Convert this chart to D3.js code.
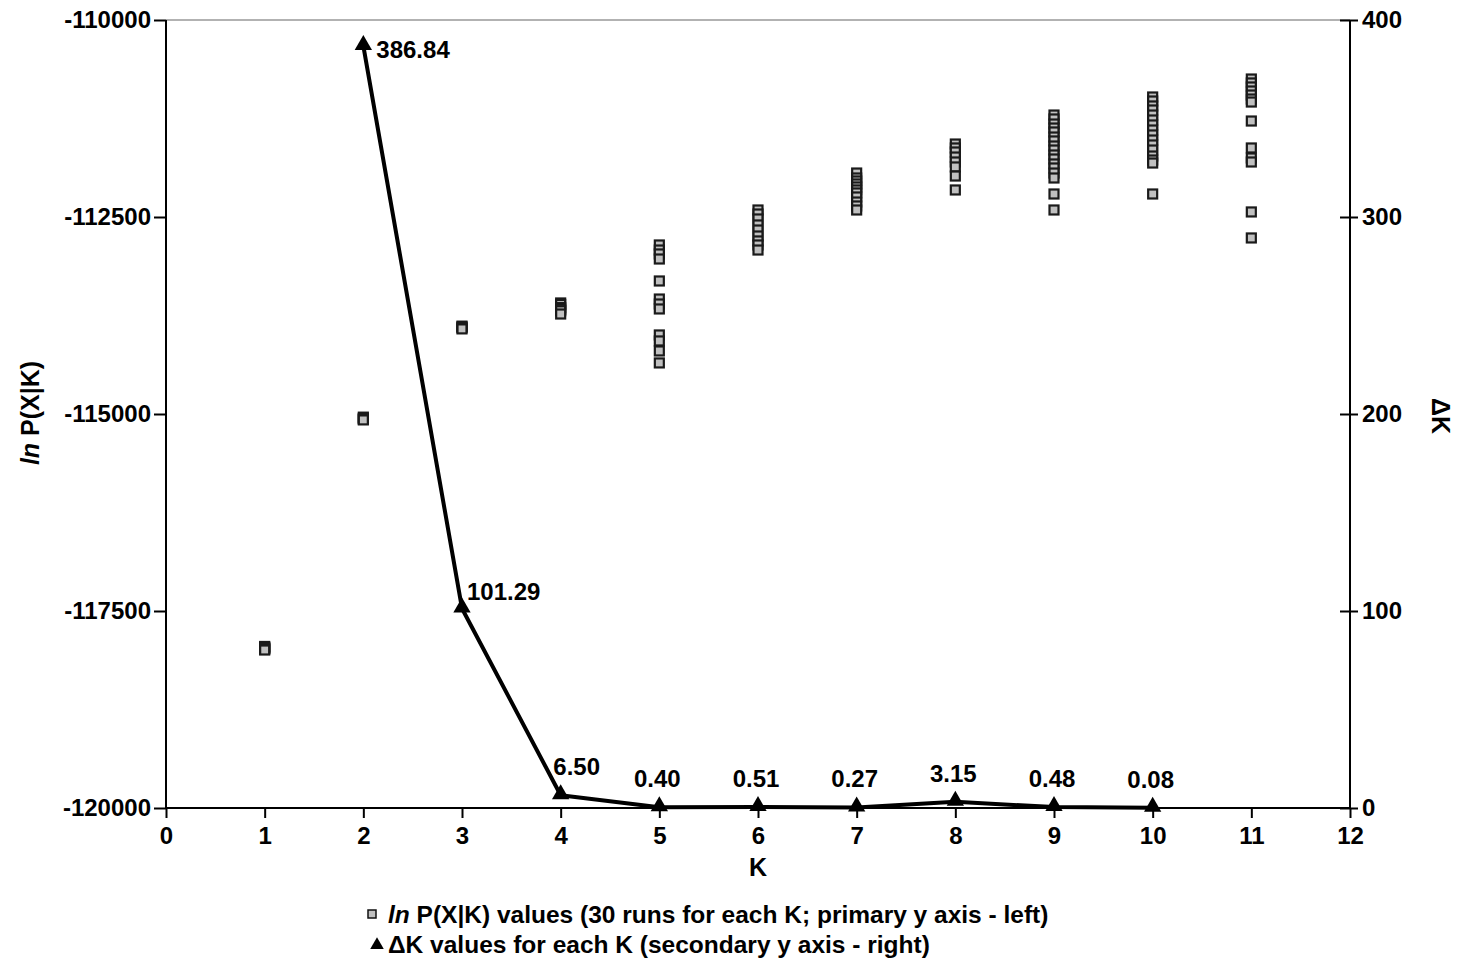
<!DOCTYPE html>
<html><head><meta charset="utf-8">
<script src="https://cdn.jsdelivr.net/npm/d3@7"></script>
<style>
body{margin:0;background:#fff;}
text{font-family:"Liberation Sans",Arial,sans-serif;font-weight:bold;fill:#000;}
</style></head>
<body><svg id="c" width="1458" height="962"></svg>
<script>
// ---- data ----
const kValues = [1,2,3,4,5,6,7,8,9,10,11];
const lnP_K1 = [-117950,-117960,-117970,-117975,-117985,-117995];
const lnP_K2 = [-115040,-115055,-115065,-115075];
const lnP_K3 = [-113885,-113895,-113905,-113920];
const lnP_K4 = [-113591,-113610,-113650,-113670,-113690,-113731];
const lnP_K5 = [-112855,-112919,-112969,-113033,-113312,-113541,-113604,-113667,-113997,-114073,-114200,-114352];
const lnP_K6 = [-112411,-112462,-112525,-112601,-112665,-112741,-112804,-112855,-112919];
const lnP_K7 = [-111942,-112005,-112043,-112081,-112119,-112157,-112195,-112246,-112310,-112360,-112411];
const lnP_K8 = [-111574,-111624,-111675,-111739,-111802,-111865,-111980,-112157];
const lnP_K9 = [-111206,-111256,-111320,-111371,-111421,-111485,-111535,-111599,-111650,-111713,-111764,-111827,-111878,-111942,-112005,-112208,-112411];
const lnP_K10 = [-110977,-111028,-111091,-111142,-111206,-111269,-111332,-111396,-111459,-111523,-111586,-111650,-111726,-111777,-111815,-112208];
const lnP_K11 = [-110749,-110799,-110850,-110901,-110952,-111003,-111041,-111282,-111624,-111751,-111802,-112436,-112766];
const lnPByK = [lnP_K1,lnP_K2,lnP_K3,lnP_K4,lnP_K5,lnP_K6,lnP_K7,lnP_K8,lnP_K9,lnP_K10,lnP_K11];

const deltaK_K = [2,3,4,5,6,7,8,9,10];
const deltaK = [386.84,101.29,6.50,0.40,0.51,0.27,3.15,0.48,0.08];

const xTicks = [0,1,2,3,4,5,6,7,8,9,10,11,12];
const leftTicks = [-120000,-117500,-115000,-112500,-110000];
const rightTicks = [0,100,200,300,400];

// ---- layout ----
const svg = d3.select("#c");
const L = 166, R = 1350, T = 20, B = 808;
const x = d3.scaleLinear().domain([0,12]).range([L,R]);
const yL = d3.scaleLinear().domain([-120000,-110000]).range([B,T]);
const yR = d3.scaleLinear().domain([0,400]).range([B,T]);
const fs = 24;
const intFmt = d => String(Math.round(d)); // plain hyphen minus

// top border
svg.append("line").attr("x1",L).attr("x2",R).attr("y1",T).attr("y2",T)
  .attr("stroke","#999").attr("stroke-width",1.5);

// axes
const gx = svg.append("g").attr("transform",`translate(0,${B})`)
  .call(d3.axisBottom(x).tickValues(xTicks).tickSize(10).tickPadding(9).tickFormat(intFmt));
const gl = svg.append("g").attr("transform",`translate(${L},0)`)
  .call(d3.axisLeft(yL).tickValues(leftTicks).tickSize(12).tickPadding(3).tickFormat(intFmt));
const gr = svg.append("g").attr("transform",`translate(${R},0)`)
  .call(d3.axisRight(yR).tickValues(rightTicks).tickSize(8).tickPadding(4).tickFormat(intFmt));
gr.selectAll(".tick line").attr("x1",-10);
[gx,gl,gr].forEach(g=>{
  g.select(".domain").attr("stroke","#000").attr("stroke-width",2);
  g.selectAll(".tick line").attr("stroke","#000").attr("stroke-width",2);
  g.selectAll("text").attr("font-size",fs).attr("font-family","Liberation Sans, Arial, sans-serif").attr("font-weight","bold").attr("fill","#000");
});
gx.select(".domain").attr("d",`M${L},0H${R}`);
gl.select(".domain").attr("d",`M0,${T}V${B}`);
gr.select(".domain").attr("d",`M0,${T}V${B}`);

// scatter squares
const pts = [];
lnPByK.forEach((arr,i)=>arr.forEach(v=>pts.push({k:kValues[i],v})));
const sq = 9;
svg.append("g").selectAll("rect").data(pts).join("rect")
  .attr("x",d=>x(d.k)-sq/2).attr("y",d=>yL(d.v)-sq/2)
  .attr("width",sq).attr("height",sq)
  .attr("fill","#c0c0c0").attr("stroke","#1a1a1a").attr("stroke-width",2.2);

// delta K line
const dk = deltaK.map((v,i)=>({k:deltaK_K[i],v}));
svg.append("path").datum(dk)
  .attr("d",d3.line().x(d=>x(d.k)).y(d=>yR(d.v)))
  .attr("fill","none").attr("stroke","#000").attr("stroke-width",4).attr("stroke-linejoin","round");
const tri = d3.symbol().type(d3.symbolTriangle).size(130);
svg.append("g").selectAll("path").data(dk).join("path")
  .attr("d",tri).attr("transform",d=>`translate(${x(d.k)},${yR(d.v)-1})`).attr("fill","#000");

// data labels
function labelPlace(d){
  if (d.k===2) return {dx:13, dy:12, anchor:"start"};
  if (d.k===3) return {dx:5, dy:-8, anchor:"start"};
  if (d.k===4) return {dx:16, dy:-20, anchor:"middle"};
  return {dx:-2, dy:-20, anchor:"middle"};
}
svg.append("g").selectAll("text").data(dk).join("text")
  .attr("x",d=>x(d.k)+labelPlace(d).dx).attr("y",d=>yR(d.v)+labelPlace(d).dy)
  .attr("text-anchor",d=>labelPlace(d).anchor).attr("font-size",fs)
  .text(d=>d3.format(".2f")(d.v));

// axis titles
svg.append("text").attr("x",(L+R)/2).attr("y",876).attr("text-anchor","middle").attr("font-size",fs+1).text("K");
const lt = svg.append("text").attr("transform","translate(39,413) rotate(-90)").attr("text-anchor","middle").attr("font-size",fs+1);
lt.append("tspan").attr("font-style","italic").text("ln");
lt.append("tspan").text(" P(X|K)");
svg.append("text").attr("transform","translate(1432,416) rotate(90)").attr("text-anchor","middle").attr("font-size",fs+1).text("ΔK");

// legend
const lg = svg.append("g");
lg.append("rect").attr("x",368).attr("y",910).attr("width",8).attr("height",8)
  .attr("fill","#c0c0c0").attr("stroke","#111").attr("stroke-width",1.5);
const l1 = lg.append("text").attr("x",388).attr("y",923).attr("font-size",fs+0.5);
l1.append("tspan").attr("font-style","italic").text("ln");
l1.append("tspan").text(" P(X|K) values (30 runs for each K; primary y axis - left)");
lg.append("path").attr("d",d3.symbol().type(d3.symbolTriangle).size(80))
  .attr("transform","translate(377,945)").attr("fill","#000");
lg.append("text").attr("x",388).attr("y",953).attr("font-size",fs+0.5)
  .text("ΔK values for each K (secondary y axis - right)");
</script></body></html>
